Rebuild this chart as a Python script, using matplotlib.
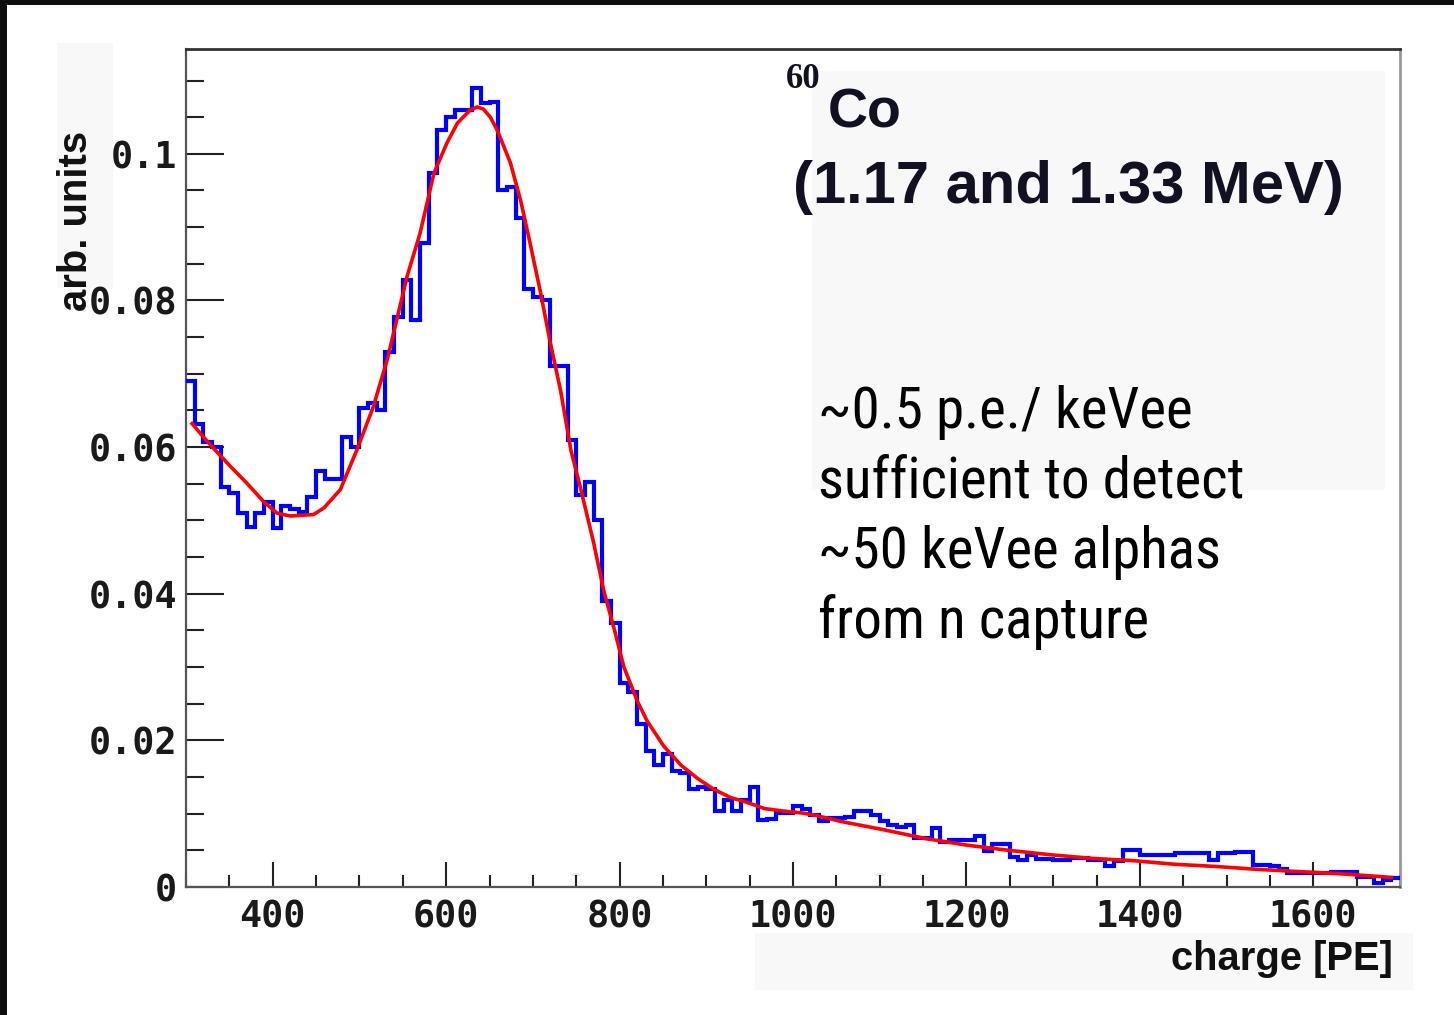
import numpy as np
import matplotlib
matplotlib.use("Agg")
import matplotlib.pyplot as plt
from matplotlib.patches import Rectangle
from matplotlib.ticker import MultipleLocator, FuncFormatter

# Histogram: 10 PE bins from 300 to 1700 PE
bin_low = 300
bin_high = 1700
bin_width = 10
counts = [
    0.0690, 0.0632, 0.0607, 0.0600, 0.0546, 0.0537, 0.0510, 0.0491, 0.0510, 0.0525,  # 300-390
    0.0490, 0.0520, 0.0516, 0.0512, 0.0532, 0.0567, 0.0557, 0.0557, 0.0614, 0.0600,  # 400-490
    0.0653, 0.0660, 0.0650, 0.0730, 0.0778, 0.0828, 0.0773, 0.0878, 0.0974, 0.1033,  # 500-590
    0.1050, 0.1060, 0.1060, 0.1090, 0.1070, 0.1071, 0.0950, 0.0955, 0.0912, 0.0816,  # 600-690
    0.0805, 0.0800, 0.0711, 0.0711, 0.0610, 0.0535, 0.0553, 0.0500, 0.0390, 0.0360,  # 700-790
    0.0278, 0.0266, 0.0222, 0.0186, 0.0166, 0.0182, 0.0158, 0.0155, 0.0134, 0.0136,  # 800-890
    0.0134, 0.0104, 0.0119, 0.0104, 0.0119, 0.0137, 0.0092, 0.0093, 0.0101, 0.0101,  # 900-990
    0.0110, 0.0106, 0.0098, 0.0090, 0.0094, 0.0094, 0.0096, 0.0104, 0.0104, 0.0098,  # 1000-1090
    0.0090, 0.0084, 0.0082, 0.0084, 0.0067, 0.0067, 0.0080, 0.0062, 0.0064, 0.0064,  # 1100-1190
    0.0064, 0.0069, 0.0049, 0.0058, 0.0058, 0.0041, 0.0037, 0.0044, 0.0038, 0.0038,  # 1200-1290
    0.0037, 0.0037, 0.0040, 0.0040, 0.0037, 0.0037, 0.0028, 0.0035, 0.0050, 0.0050,  # 1300-1390
    0.0044, 0.0044, 0.0044, 0.0044, 0.0046, 0.0046, 0.0046, 0.0046, 0.0037, 0.0046,  # 1400-1490
    0.0046, 0.0048, 0.0048, 0.0030, 0.0030, 0.0029, 0.0024, 0.0019, 0.0019, 0.0019,  # 1500-1590
    0.0019, 0.0019, 0.0020, 0.0020, 0.0020, 0.0014, 0.0014, 0.0005, 0.0010, 0.0012,  # 1600-1690
]

# Fitted spectrum shape
fit_x = [307, 320, 332, 351, 370, 390, 405, 420, 447, 459, 478, 497, 516, 532,
         555, 570, 586, 601, 613, 628, 636, 643, 651, 659, 674, 686, 697, 709, 720,
         732, 744, 755, 770, 782, 794, 805, 821, 832, 851, 871, 890, 909, 928, 948,
         967, 986, 1010, 1025, 1057, 1105, 1153, 1201, 1249, 1297, 1345, 1392,
         1440, 1488, 1536, 1584, 1632, 1680, 1690]
fit_y = [0.0632, 0.0614, 0.0598, 0.0574, 0.0551, 0.0525, 0.0510, 0.0506, 0.0508,
         0.0517, 0.0542, 0.0596, 0.0655, 0.0719, 0.0833, 0.0892, 0.0974, 0.1015,
         0.1042, 0.1060, 0.1064, 0.1061, 0.1050, 0.1032, 0.0988, 0.0936, 0.0877,
         0.0810, 0.0743, 0.0677, 0.0595, 0.0544, 0.0470, 0.0403, 0.0351, 0.0300,
         0.0252, 0.0226, 0.0192, 0.0166, 0.0148, 0.0133, 0.0122, 0.0115, 0.0107,
         0.0104, 0.0101, 0.0098, 0.0089, 0.0078, 0.0066, 0.0057, 0.0050, 0.0044,
         0.0039, 0.0036, 0.0031, 0.0028, 0.0024, 0.0021, 0.0018, 0.0014, 0.0013]

y_max = 0.1143
x_label = "charge [PE]"
y_label = "arb. units"
isotope_mass = "60"
isotope_symbol = "Co"
energies = "(1.17 and 1.33 MeV)"
note_lines = ["~0.5 p.e./ keVee", "sufficient to detect",
              "~50 keVee alphas", "from n capture"]

W, H = 1454, 1015
fig = plt.figure(figsize=(W / 100, H / 100), dpi=100, facecolor="white")


def fx(px):
    return px / W


def fy(py):
    return 1 - py / H


# faint panels behind the labels
for (x0, y0, x1, y1) in [(57, 43, 113, 288), (812, 71, 1385, 490), (755, 933, 1413, 990)]:
    fig.patches.append(Rectangle((fx(x0), fy(y1)), fx(x1) - fx(x0), fy(y0) - fy(y1),
                                 transform=fig.transFigure, facecolor="#f8f8f8",
                                 edgecolor="none", zorder=-5))
# dark frame along the top and left edges
fig.patches.append(Rectangle((0, fy(5)), 1, fy(0) - fy(5), transform=fig.transFigure,
                             facecolor="#0e0e0e", edgecolor="none", zorder=10))
fig.patches.append(Rectangle((0, 0), fx(7), 1, transform=fig.transFigure,
                             facecolor="#0e0e0e", edgecolor="none", zorder=10))

ax = fig.add_axes([fx(186), fy(887), fx(1400) - fx(186), fy(49) - fy(887)])
ax.patch.set_alpha(0)

edges = np.arange(bin_low, bin_high + bin_width, bin_width)
ax.stairs(counts, edges, baseline=None, color="#0000ff", linewidth=3.0, zorder=3)
ax.plot(fit_x, fit_y, color="#ff0000", linewidth=2.6, zorder=4)

ax.set_xlim(bin_low, bin_high)
ax.set_ylim(0, y_max)

ax.xaxis.set_major_locator(MultipleLocator(200))
ax.xaxis.set_minor_locator(MultipleLocator(50))
ax.yaxis.set_major_locator(MultipleLocator(0.02))
ax.yaxis.set_minor_locator(MultipleLocator(0.005))
ax.yaxis.set_major_formatter(FuncFormatter(lambda v, p: "%g" % round(v, 4)))

ax.tick_params(axis="x", which="major", direction="in", length=18, width=1.5,
               color="#222222", pad=8, labelsize=26.5)
ax.tick_params(axis="x", which="minor", direction="in", length=9, width=1.5, color="#222222")
ax.tick_params(axis="y", which="major", direction="in", length=27, width=1.5,
               color="#222222", pad=6.5, labelsize=26.5)
ax.tick_params(axis="y", which="minor", direction="in", length=13, width=1.5, color="#222222")
for lab in ax.get_xticklabels() + ax.get_yticklabels():
    lab.set_fontfamily("DejaVu Sans Mono")
    lab.set_fontweight("bold")
    lab.set_color("#1a1a1a")

ax.spines["left"].set_color("#555555")
ax.spines["left"].set_linewidth(1.6)
ax.spines["bottom"].set_color("#555555")
ax.spines["bottom"].set_linewidth(1.6)
ax.spines["top"].set_color("#333333")
ax.spines["top"].set_linewidth(2.0)
ax.spines["right"].set_color("#999999")
ax.spines["right"].set_linewidth(2.0)

label_font = ["Liberation Sans", "DejaVu Sans"]
fig.text(fx(87), fy(221), y_label, rotation=90, rotation_mode="anchor",
         ha="center", va="baseline", fontsize=28.8, fontweight="bold",
         family=label_font, color="#111111")
fig.text(fx(1393), fy(970), x_label, ha="right", va="baseline", fontsize=28.8,
         fontweight="bold", family=label_font, color="#111111")

fig.text(fx(786), fy(88), isotope_mass, ha="left", va="baseline", fontsize=25,
         fontweight="bold", family=["Liberation Serif", "DejaVu Serif"], color="#111122")
fig.text(fx(828), fy(127), isotope_symbol, ha="left", va="baseline", fontsize=40,
         fontweight="bold", family=label_font, color="#111122")
fig.text(fx(793), fy(203), energies, ha="left", va="baseline", fontsize=43,
         fontweight="bold", family=label_font, color="#111122")

note_font = ["Liberation Sans Narrow", "Roboto Condensed", "Arial Narrow",
             "Open Sans Condensed", "Liberation Sans"]
for i, line in enumerate(note_lines):
    fig.text(fx(818), fy(428 + 70 * i), line, ha="left", va="baseline", fontsize=41,
             family=note_font, fontstretch="condensed", color="black")

fig.savefig("out.png", dpi=100, facecolor="white")
